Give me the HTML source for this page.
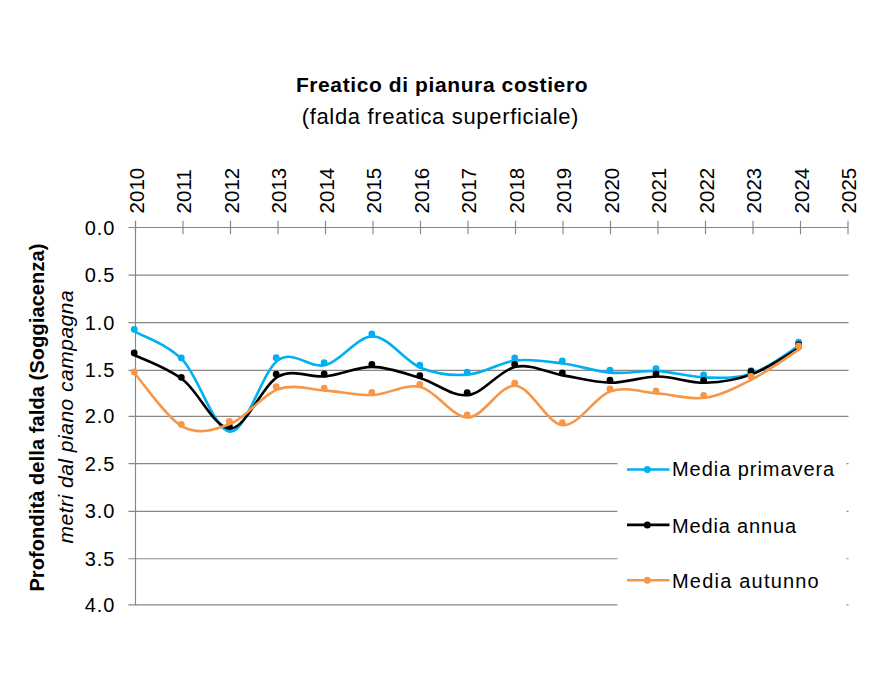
<!DOCTYPE html>
<html><head><meta charset="utf-8"><style>
html,body{margin:0;padding:0;background:#fff;width:882px;height:682px;overflow:hidden}
svg{display:block}
text{font-family:"Liberation Sans",sans-serif;fill:#000}
.t1{font-size:21px;font-weight:bold;letter-spacing:0.6px}
.t2{font-size:22px;letter-spacing:0.67px}
.lg{font-size:20px}
.yl{font-size:20px;letter-spacing:1.0px}
.xl{font-size:20.5px;letter-spacing:0.05px}
.vt1{font-size:20px;font-weight:bold;letter-spacing:0.1px}
.vt2{font-size:21px;font-style:italic;letter-spacing:0.5px}
</style></head><body>
<svg width="882" height="682" viewBox="0 0 882 682">
<line x1="128.4" y1="227.50" x2="848.5" y2="227.50" stroke="#878787" stroke-width="1.15"/>
<line x1="128.4" y1="275.10" x2="848.5" y2="275.10" stroke="#878787" stroke-width="1.15"/>
<line x1="128.4" y1="322.60" x2="848.5" y2="322.60" stroke="#878787" stroke-width="1.15"/>
<line x1="128.4" y1="370.30" x2="848.5" y2="370.30" stroke="#878787" stroke-width="1.15"/>
<line x1="128.4" y1="416.30" x2="848.5" y2="416.30" stroke="#878787" stroke-width="1.15"/>
<line x1="128.4" y1="463.60" x2="848.5" y2="463.60" stroke="#878787" stroke-width="1.15"/>
<line x1="128.4" y1="511.30" x2="848.5" y2="511.30" stroke="#878787" stroke-width="1.15"/>
<line x1="128.4" y1="558.70" x2="848.5" y2="558.70" stroke="#878787" stroke-width="1.15"/>
<line x1="128.4" y1="604.80" x2="848.5" y2="604.80" stroke="#878787" stroke-width="1.15"/>
<line x1="135.5" y1="220.8" x2="135.5" y2="605.3" stroke="#878787" stroke-width="1.15"/>
<line x1="135.50" y1="220.8" x2="135.50" y2="234.3" stroke="#878787" stroke-width="1.15"/>
<line x1="183.00" y1="220.8" x2="183.00" y2="234.3" stroke="#878787" stroke-width="1.15"/>
<line x1="230.50" y1="220.8" x2="230.50" y2="234.3" stroke="#878787" stroke-width="1.15"/>
<line x1="278.00" y1="220.8" x2="278.00" y2="234.3" stroke="#878787" stroke-width="1.15"/>
<line x1="325.50" y1="220.8" x2="325.50" y2="234.3" stroke="#878787" stroke-width="1.15"/>
<line x1="373.00" y1="220.8" x2="373.00" y2="234.3" stroke="#878787" stroke-width="1.15"/>
<line x1="420.50" y1="220.8" x2="420.50" y2="234.3" stroke="#878787" stroke-width="1.15"/>
<line x1="468.00" y1="220.8" x2="468.00" y2="234.3" stroke="#878787" stroke-width="1.15"/>
<line x1="515.50" y1="220.8" x2="515.50" y2="234.3" stroke="#878787" stroke-width="1.15"/>
<line x1="563.00" y1="220.8" x2="563.00" y2="234.3" stroke="#878787" stroke-width="1.15"/>
<line x1="610.50" y1="220.8" x2="610.50" y2="234.3" stroke="#878787" stroke-width="1.15"/>
<line x1="658.00" y1="220.8" x2="658.00" y2="234.3" stroke="#878787" stroke-width="1.15"/>
<line x1="705.50" y1="220.8" x2="705.50" y2="234.3" stroke="#878787" stroke-width="1.15"/>
<line x1="753.00" y1="220.8" x2="753.00" y2="234.3" stroke="#878787" stroke-width="1.15"/>
<line x1="800.50" y1="220.8" x2="800.50" y2="234.3" stroke="#878787" stroke-width="1.15"/>
<line x1="848.00" y1="220.8" x2="848.00" y2="234.3" stroke="#878787" stroke-width="1.15"/>
<path d="M135.50,331.80 C143.42,336.57 167.17,343.75 183.00,360.40 C198.83,377.05 214.67,431.73 230.50,431.70 C246.33,431.67 262.17,371.30 278.00,360.20 C293.83,349.10 309.67,369.07 325.50,365.10 C341.33,361.13 357.17,335.97 373.00,336.40 C388.83,336.83 404.67,361.33 420.50,367.70 C436.33,374.07 452.17,375.80 468.00,374.60 C483.83,373.40 499.67,362.35 515.50,360.50 C531.33,358.65 547.17,361.47 563.00,363.50 C578.83,365.53 594.67,371.43 610.50,372.70 C626.33,373.97 642.17,370.30 658.00,371.10 C673.83,371.90 689.67,377.15 705.50,377.50 C721.33,377.85 737.17,378.67 753.00,373.20 C768.83,367.73 792.58,349.45 800.50,344.70" fill="none" stroke="#00B0F0" stroke-width="2.6" stroke-linecap="round" stroke-linejoin="round"/>
<circle cx="134.20" cy="329.30" r="3.4" fill="#00B0F0"/><circle cx="181.30" cy="357.90" r="3.4" fill="#00B0F0"/><circle cx="229.30" cy="429.20" r="3.4" fill="#00B0F0"/><circle cx="276.20" cy="357.70" r="3.4" fill="#00B0F0"/><circle cx="324.20" cy="362.60" r="3.4" fill="#00B0F0"/><circle cx="371.80" cy="333.90" r="3.4" fill="#00B0F0"/><circle cx="419.80" cy="365.20" r="3.4" fill="#00B0F0"/><circle cx="467.20" cy="372.10" r="3.4" fill="#00B0F0"/><circle cx="514.70" cy="358.00" r="3.4" fill="#00B0F0"/><circle cx="562.30" cy="361.00" r="3.4" fill="#00B0F0"/><circle cx="610.00" cy="370.20" r="3.4" fill="#00B0F0"/><circle cx="656.00" cy="368.60" r="3.4" fill="#00B0F0"/><circle cx="703.60" cy="375.00" r="3.4" fill="#00B0F0"/><circle cx="751.00" cy="370.70" r="3.4" fill="#00B0F0"/><circle cx="798.60" cy="342.20" r="3.4" fill="#00B0F0"/>
<path d="M135.50,355.50 C143.42,359.55 167.17,367.63 183.00,379.80 C198.83,391.97 214.67,429.02 230.50,428.50 C246.33,427.98 262.17,385.38 278.00,376.70 C293.83,368.02 309.67,378.03 325.50,376.40 C341.33,374.77 357.17,366.60 373.00,366.90 C388.83,367.20 404.67,373.50 420.50,378.20 C436.33,382.90 452.17,397.00 468.00,395.10 C483.83,393.20 499.67,370.08 515.50,366.80 C531.33,363.52 547.17,372.75 563.00,375.40 C578.83,378.05 594.67,382.52 610.50,382.70 C626.33,382.88 642.17,376.48 658.00,376.50 C673.83,376.52 689.67,383.23 705.50,382.80 C721.33,382.37 737.17,379.85 753.00,373.90 C768.83,367.95 792.58,351.57 800.50,347.10" fill="none" stroke="#000000" stroke-width="2.6" stroke-linecap="round" stroke-linejoin="round"/>
<circle cx="134.20" cy="353.00" r="3.4" fill="#000000"/><circle cx="181.30" cy="377.30" r="3.4" fill="#000000"/><circle cx="229.30" cy="426.00" r="3.4" fill="#000000"/><circle cx="276.20" cy="374.20" r="3.4" fill="#000000"/><circle cx="324.20" cy="373.90" r="3.4" fill="#000000"/><circle cx="371.80" cy="364.40" r="3.4" fill="#000000"/><circle cx="419.80" cy="375.70" r="3.4" fill="#000000"/><circle cx="467.20" cy="392.60" r="3.4" fill="#000000"/><circle cx="514.70" cy="364.30" r="3.4" fill="#000000"/><circle cx="562.30" cy="372.90" r="3.4" fill="#000000"/><circle cx="610.00" cy="380.20" r="3.4" fill="#000000"/><circle cx="656.00" cy="374.00" r="3.4" fill="#000000"/><circle cx="703.60" cy="380.30" r="3.4" fill="#000000"/><circle cx="751.00" cy="371.40" r="3.4" fill="#000000"/><circle cx="798.60" cy="344.60" r="3.4" fill="#000000"/>
<path d="M135.50,374.50 C143.42,383.23 167.17,418.68 183.00,426.90 C198.83,435.12 214.67,430.08 230.50,423.80 C246.33,417.52 262.17,394.73 278.00,389.20 C293.83,383.67 309.67,389.63 325.50,390.60 C341.33,391.57 357.17,395.60 373.00,395.00 C388.83,394.40 404.67,383.27 420.50,387.00 C436.33,390.73 452.17,417.62 468.00,417.40 C483.83,417.18 499.67,384.42 515.50,385.70 C531.33,386.98 547.17,424.17 563.00,425.10 C578.83,426.03 594.67,396.57 610.50,391.30 C626.33,386.03 642.17,392.42 658.00,393.50 C673.83,394.58 689.67,400.23 705.50,397.80 C721.33,395.37 737.17,387.13 753.00,378.90 C768.83,370.67 792.58,353.48 800.50,348.40" fill="none" stroke="#F79646" stroke-width="2.6" stroke-linecap="round" stroke-linejoin="round"/>
<circle cx="134.20" cy="372.00" r="3.4" fill="#F79646"/><circle cx="181.30" cy="424.40" r="3.4" fill="#F79646"/><circle cx="229.30" cy="421.30" r="3.4" fill="#F79646"/><circle cx="276.20" cy="386.70" r="3.4" fill="#F79646"/><circle cx="324.20" cy="388.10" r="3.4" fill="#F79646"/><circle cx="371.80" cy="392.50" r="3.4" fill="#F79646"/><circle cx="419.80" cy="384.50" r="3.4" fill="#F79646"/><circle cx="467.20" cy="414.90" r="3.4" fill="#F79646"/><circle cx="514.70" cy="383.20" r="3.4" fill="#F79646"/><circle cx="562.30" cy="422.60" r="3.4" fill="#F79646"/><circle cx="610.00" cy="388.80" r="3.4" fill="#F79646"/><circle cx="656.00" cy="391.00" r="3.4" fill="#F79646"/><circle cx="703.60" cy="395.30" r="3.4" fill="#F79646"/><circle cx="751.00" cy="376.40" r="3.4" fill="#F79646"/><circle cx="798.60" cy="345.90" r="3.4" fill="#F79646"/>
<rect x="617.5" y="440" width="229" height="170" fill="#fff"/>
<line x1="627" y1="469.5" x2="669.5" y2="469.5" stroke="#00B0F0" stroke-width="2.6"/>
<circle cx="647.3" cy="469.5" r="3.5" fill="#00B0F0"/>
<text x="672" y="475.79999999999995" class="lg" style="letter-spacing:0.95px">Media primavera</text>
<line x1="627" y1="524.9" x2="669.5" y2="524.9" stroke="#000000" stroke-width="2.6"/>
<circle cx="647.3" cy="524.9" r="3.5" fill="#000000"/>
<text x="672" y="532.5" class="lg" style="letter-spacing:0.84px">Media annua</text>
<line x1="627" y1="580.3" x2="669.5" y2="580.3" stroke="#F79646" stroke-width="2.6"/>
<circle cx="647.3" cy="580.3" r="3.5" fill="#F79646"/>
<text x="672" y="588.3" class="lg" style="letter-spacing:1.2px">Media autunno</text>
<text x="115.5" y="234.50" class="yl" text-anchor="end">0.0</text>
<text x="115.5" y="282.10" class="yl" text-anchor="end">0.5</text>
<text x="115.5" y="329.60" class="yl" text-anchor="end">1.0</text>
<text x="115.5" y="377.30" class="yl" text-anchor="end">1.5</text>
<text x="115.5" y="423.30" class="yl" text-anchor="end">2.0</text>
<text x="115.5" y="470.60" class="yl" text-anchor="end">2.5</text>
<text x="115.5" y="518.30" class="yl" text-anchor="end">3.0</text>
<text x="115.5" y="565.70" class="yl" text-anchor="end">3.5</text>
<text x="115.5" y="611.80" class="yl" text-anchor="end">4.0</text>
<text transform="translate(143.90,213.5) rotate(-90)" class="xl">2010</text>
<text transform="translate(191.40,213.5) rotate(-90)" class="xl">2011</text>
<text transform="translate(238.90,213.5) rotate(-90)" class="xl">2012</text>
<text transform="translate(286.40,213.5) rotate(-90)" class="xl">2013</text>
<text transform="translate(333.90,213.5) rotate(-90)" class="xl">2014</text>
<text transform="translate(381.40,213.5) rotate(-90)" class="xl">2015</text>
<text transform="translate(428.90,213.5) rotate(-90)" class="xl">2016</text>
<text transform="translate(476.40,213.5) rotate(-90)" class="xl">2017</text>
<text transform="translate(523.90,213.5) rotate(-90)" class="xl">2018</text>
<text transform="translate(571.40,213.5) rotate(-90)" class="xl">2019</text>
<text transform="translate(618.90,213.5) rotate(-90)" class="xl">2020</text>
<text transform="translate(666.40,213.5) rotate(-90)" class="xl">2021</text>
<text transform="translate(713.90,213.5) rotate(-90)" class="xl">2022</text>
<text transform="translate(761.40,213.5) rotate(-90)" class="xl">2023</text>
<text transform="translate(808.90,213.5) rotate(-90)" class="xl">2024</text>
<text transform="translate(856.40,213.5) rotate(-90)" class="xl">2025</text>
<text x="442.0" y="91.9" class="t1" text-anchor="middle">Freatico di pianura costiero</text>
<text x="440.4" y="124.1" class="t2" text-anchor="middle">(falda freatica superficiale)</text>
<text transform="translate(43.9,591.6) rotate(-90)" class="vt1">Profondità della falda (Soggiacenza)</text>
<text transform="translate(73,543.5) rotate(-90)" class="vt2">metri dal piano campagna</text>
</svg>
</body></html>
